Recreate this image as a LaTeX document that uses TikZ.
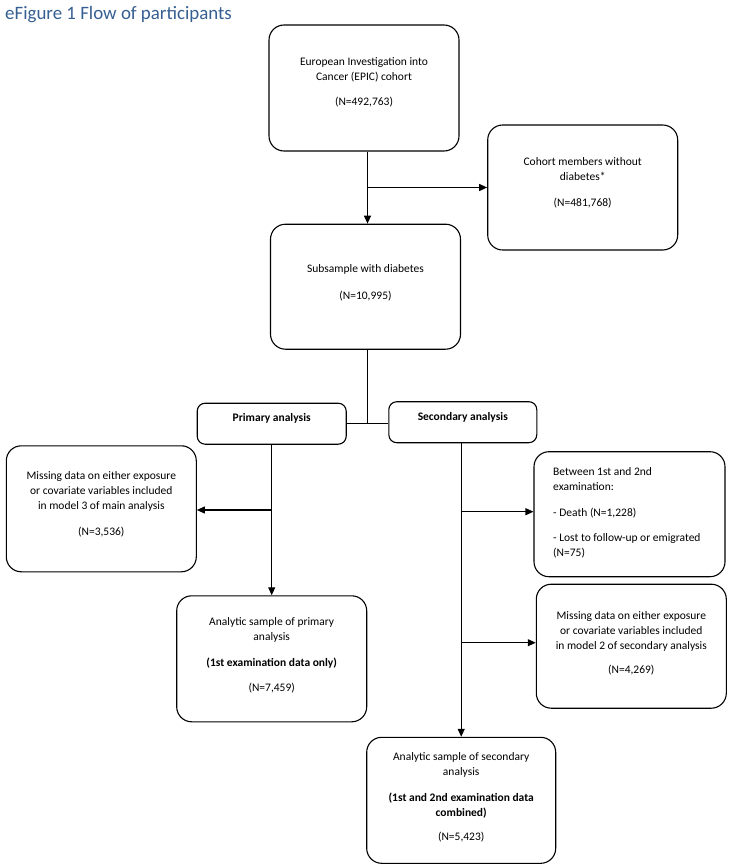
\documentclass[tikz,border=0pt]{standalone}
\usepackage{fontspec}
\setmainfont{Carlito}
\usetikzlibrary{arrows.meta}
\definecolor{titleblue}{HTML}{365F91}
\begin{document}
\begin{tikzpicture}[x=1pt,y=-1pt,
  bigbox/.style={draw, line width=1.1pt, rounded corners=15pt, inner sep=0, minimum width=190pt, minimum height=125pt},
  smallbox/.style={draw, line width=1.1pt, rounded corners=8pt, inner sep=0, minimum width=148pt, minimum height=41pt},
  txt/.style={inner sep=0, align=center, anchor=north, font=\fontsize{11.5}{15}\selectfont},
  ln/.style={line width=1.1pt},
  arr/.style={line width=1.1pt, -{Triangle[length=8pt,width=7pt]}}]
\useasboundingbox (0,0) rectangle (733,867);
% title
\node[anchor=base west, inner sep=0, text=titleblue, font=\fontsize{18.9}{22}\selectfont] (title) at (5,19.8) {eFigure 1 Flow of participants};
% boxes
\node[bigbox, minimum height=126pt] (top) at (364,88) {};
\node[bigbox] (coh) at (582.7,187.5) {};
\node[bigbox] (sub) at (365.5,286.7) {};
\node[smallbox, minimum width=149pt] (prim) at (271.7,423.7) {};
\node[smallbox] (sec) at (462.8,422.2) {};
\node[bigbox, minimum height=126pt] (miss1) at (101.3,508.8) {};
\node[bigbox, minimum width=191pt] (betw) at (629.5,514.2) {};
\node[bigbox, minimum height=126pt] (ana1) at (271.7,658.8) {};
\node[bigbox, minimum height=124pt] (miss2) at (631.3,646.2) {};
\node[bigbox, minimum width=189pt, minimum height=126pt] (ana2) at (461.2,800.3) {};
% texts
\node[txt] (t1) at (364,55.2) {\strut European Investigation into\\Cancer (EPIC) cohort\\[10pt](N=492,763)};
\node[txt] (t2) at (582.7,155.2) {\strut Cohort members without\\diabetes*\\[11pt](N=481,768)};
\node[txt] (t3) at (365.5,262) {\strut Subsample with diabetes\\[12pt](N=10,995)};
\node[txt] (t4) at (271.7,411.2) {\strut\textbf{Primary analysis}};
\node[txt] (t5) at (462.8,410.2) {\strut\textbf{Secondary analysis}};
\node[txt] (t6) at (101.3,468.5) {\strut Missing data on either exposure\\or covariate variables included\\in model 3 of main analysis\\[11pt](N=3,536)};
\node[txt, anchor=north west, align=left] (t7) at (553,465.2) {\strut Between 1st and 2nd\\examination:\\[11pt]- Death (N=1,228)\\[10pt]- Lost to follow-up or emigrated\\(N=75)};
\node[txt] (t8) at (271.7,615.2) {\strut Analytic sample of primary\\analysis\\[11pt]\textbf{(1st examination data only)}\\[10pt](N=7,459)};
\node[txt] (t9) at (631.3,608.5) {\strut Missing data on either exposure\\or covariate variables included\\in model 2 of secondary analysis\\[9pt](N=4,269)};
\node[txt] (t10) at (461.2,749.5) {\strut Analytic sample of secondary\\analysis\\[11pt]\textbf{(1st and 2nd examination data}\\\textbf{combined)}\\[9pt](N=5,423)};
% junctions
\coordinate (j1) at (367.5,187.5);
\coordinate (j2) at (367.7,423.3);
\coordinate (j3) at (271.7,510);
\coordinate (j4) at (461.2,511.7);
\coordinate (j5) at (461.2,642.7);
% connectors
\draw[arr] (top.south -| j1) -- (sub.north -| j1);
\draw[arr] (j1) -- (coh.west);
\draw[ln] (sub.south -| j2) -- (j2);
\draw[ln] (prim.east) -- (prim.east -| sec.west);
\draw[arr] (prim.south) -- (ana1.north);
\draw[arr] (j3) -- (j3 -| miss1.east);
\draw[arr] (sec.south -| ana2.north) -- (ana2.north);
\draw[arr] (j4) -- (j4 -| betw.west);
\draw[arr] (j5) -- (j5 -| miss2.west);
\end{tikzpicture}
\end{document}
